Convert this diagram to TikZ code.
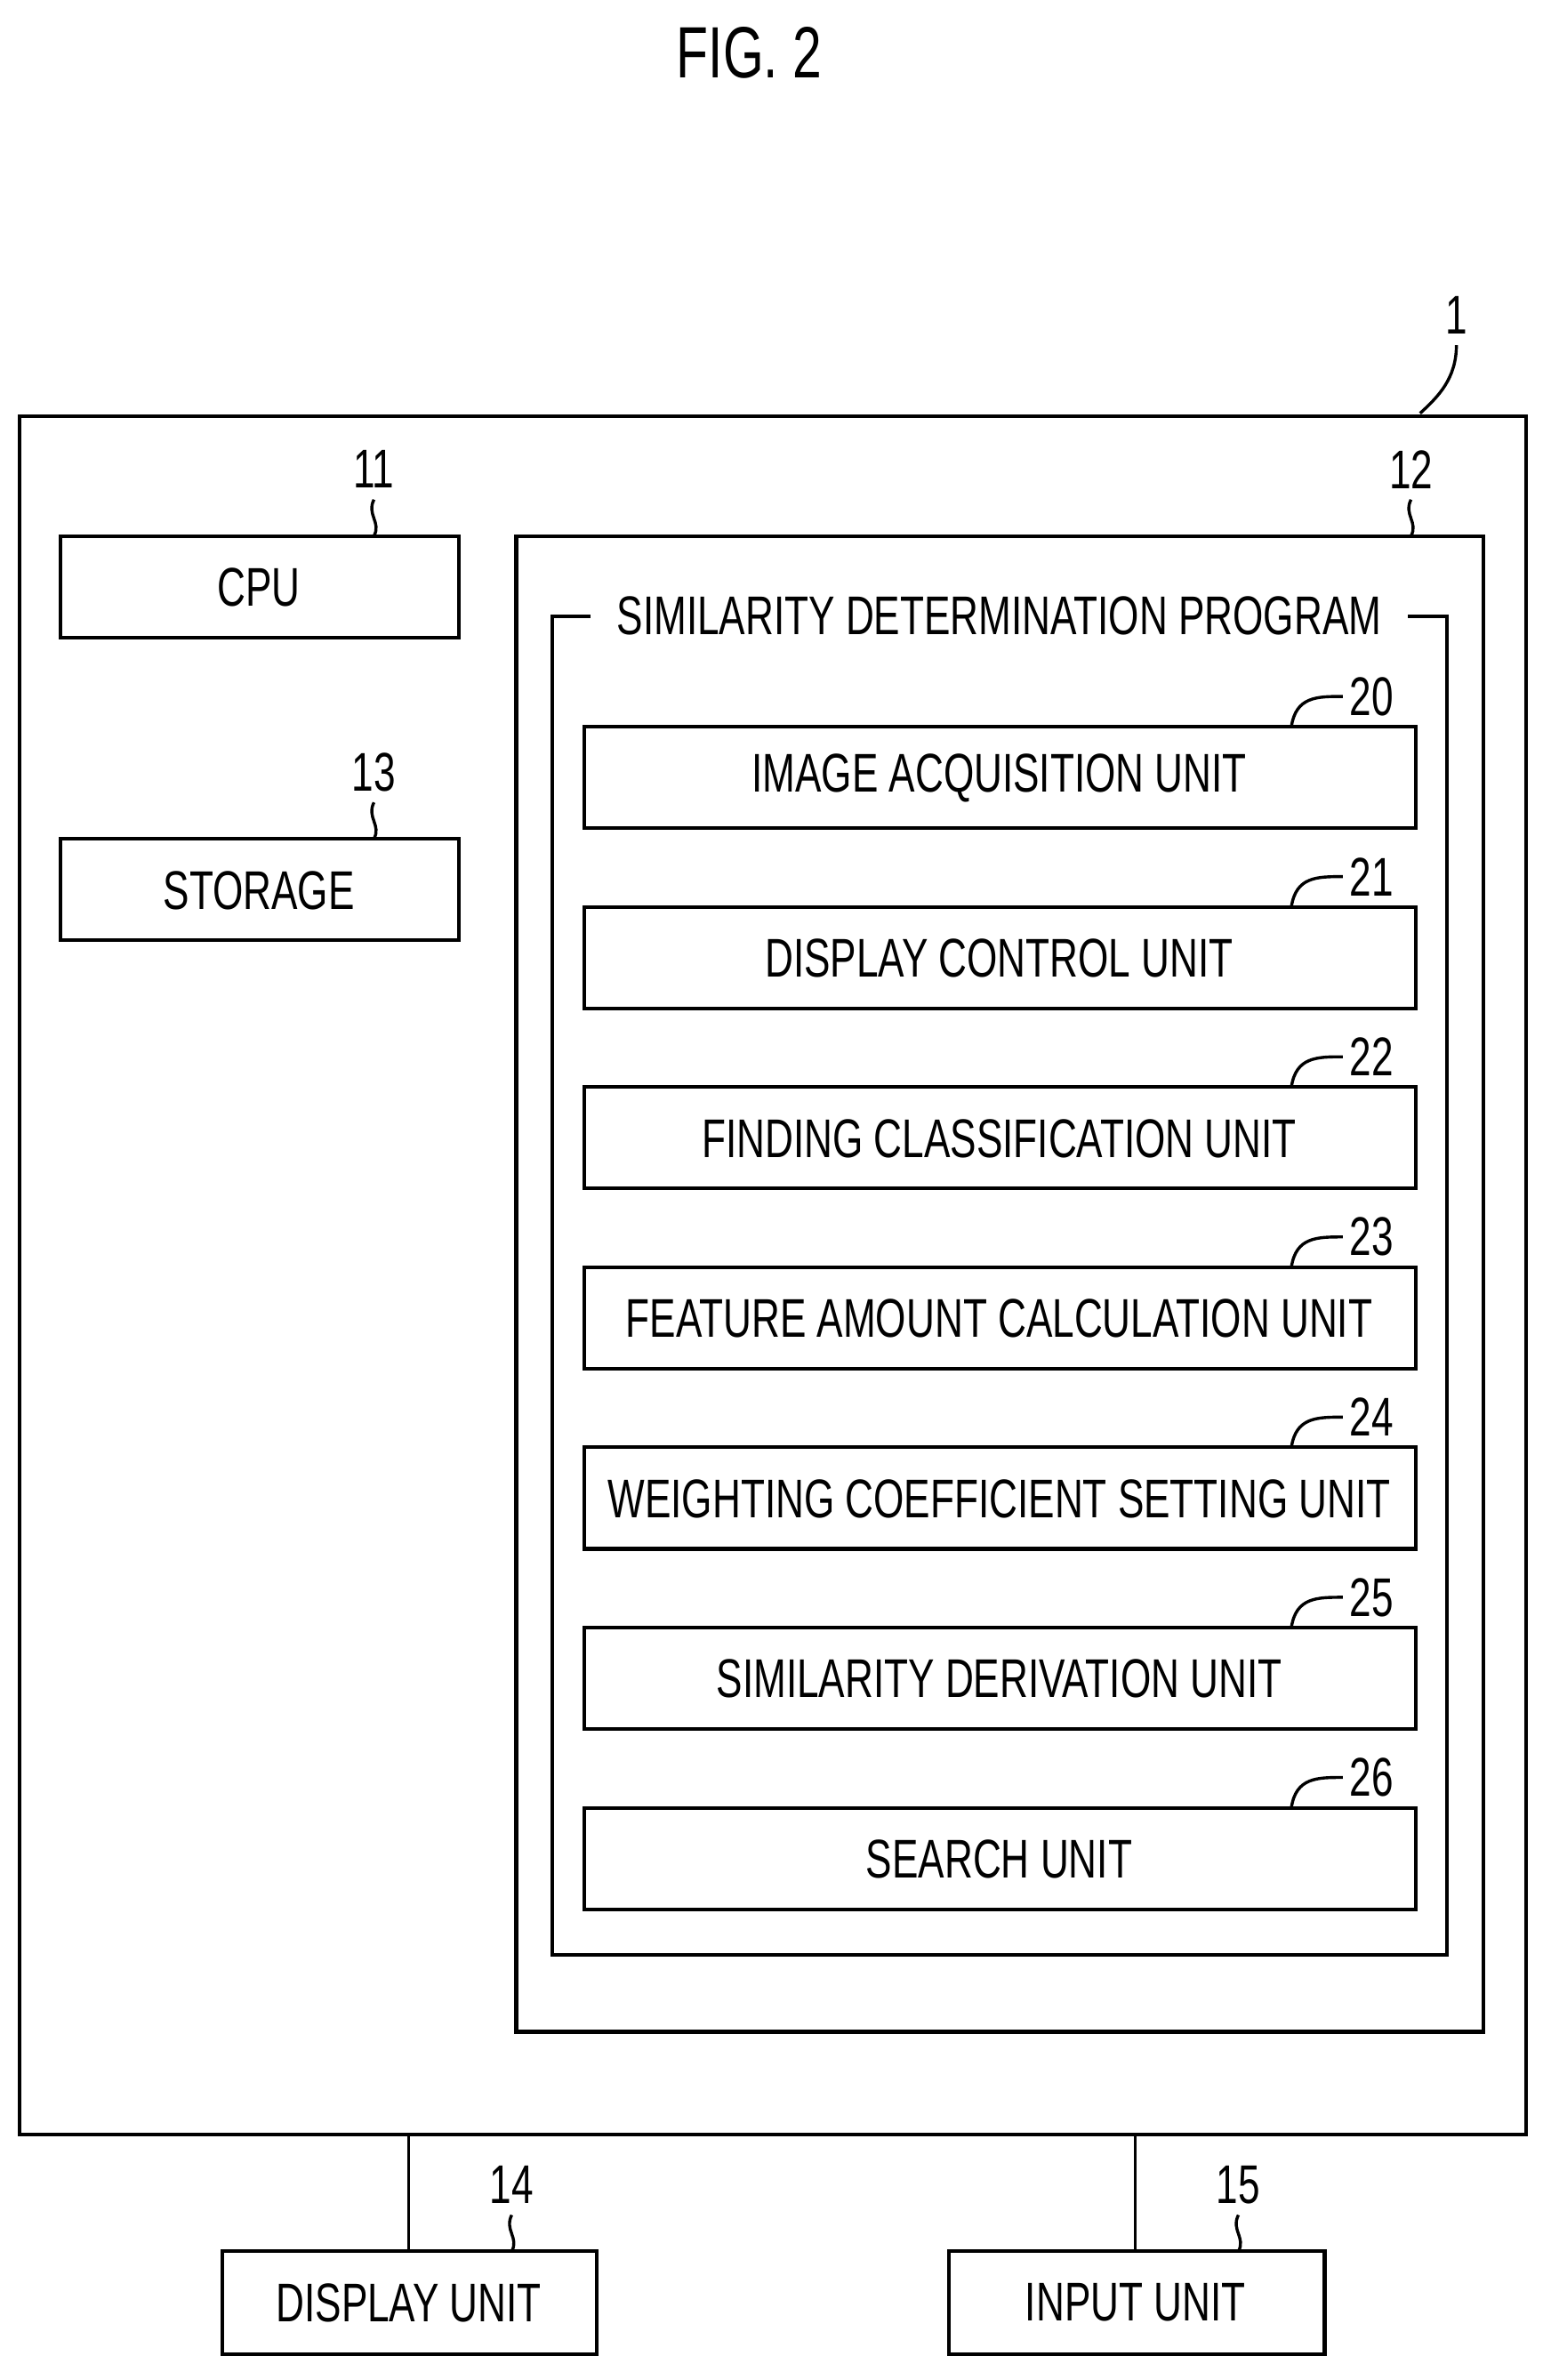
\documentclass[tikz,border=0pt]{standalone}
\usepackage{fontspec}
\setmainfont[FakeStretch=0.72]{Liberation Sans}
\begin{document}
\begin{tikzpicture}[x=0.5pt,y=-0.5pt,
  box/.style={draw,line width=1.2pt},
  txt/.style={font=\fontsize{18}{20}\selectfont,inner sep=0},
  lead/.style={line width=1pt}]
\useasboundingbox (0,0) rectangle (1024,1572);
\node[txt,font=\fontsize{24}{26}\selectfont] (title) at (495,35) {FIG. 2};
% outer
\draw[box] (13,275) rectangle (1008,1410);
\coordinate (o1) at (938,273);
\node[txt] (n1) at (962,208) {1};
\draw[lead] (o1) .. controls (950,262) and (962,250) .. (962,228);
% CPU
\draw[box] (40,354) rectangle (303,421);
\node[txt] (cpu) at (171,388) {CPU};
\node[txt] (n11) at (247,310) {11};
\coordinate (c11) at (247,354);
\draw[lead] (c11) .. controls (252,345) and (242,340) .. (247,330);
% storage
\draw[box] (40,554) rectangle (303,621);
\node[txt] (sto) at (171,588) {STORAGE};
\node[txt] (n13) at (247,510) {13};
\coordinate (c13) at (247,554);
\draw[lead] (c13) .. controls (252,545) and (242,540) .. (247,530);
% 12
\draw[box] (341,354) rectangle (980,1342);
\node[txt] (n12) at (932,310) {12};
\coordinate (c12) at (932,354);
\draw[lead] (c12) .. controls (937,345) and (927,340) .. (932,330);
% program frame
\draw[box] (390,407) -- (365,407) -- (365,1291) -- (956,1291) -- (956,407) -- (930,407);
\node[txt] (prog) at (660,407) {SIMILARITY DETERMINATION PROGRAM};
% units
\foreach \t/\n/\lab in {480/20/IMAGE ACQUISITION UNIT,599/21/DISPLAY CONTROL UNIT,718/22/FINDING CLASSIFICATION UNIT,837/23/FEATURE AMOUNT CALCULATION UNIT,956/24/WEIGHTING COEFFICIENT SETTING UNIT,1075/25/SIMILARITY DERIVATION UNIT,1194/26/SEARCH UNIT}{
  \draw[box] (386,\t) rectangle (935,\t+67);
  \node[txt] (u\n) at (660,\t+34) {\lab};
  \node[txt] (l\n) at (906,\t-20) {\n};
  \coordinate (cu\n) at (853,\t);
  \draw[lead] (cu\n) .. controls (856,\t-20) and (870,\t-20) .. (887,\t-20);
}
% display / input
\draw[box] (147,1487) rectangle (394,1555);
\node[txt] (disp) at (270,1521) {DISPLAY UNIT};
\draw[lead] (270,1410) -- (270,1487);
\node[txt] (n14) at (338,1443) {14};
\draw[lead] (338,1487) .. controls (343,1478) and (333,1473) .. (338,1463);
\draw[box] (627,1487) rectangle (875,1555);
\node[txt] (inp) at (750,1521) {INPUT UNIT};
\draw[lead] (750,1410) -- (750,1487);
\node[txt] (n15) at (818,1443) {15};
\draw[lead] (818,1487) .. controls (823,1478) and (813,1473) .. (818,1463);
\end{tikzpicture}
\end{document}
